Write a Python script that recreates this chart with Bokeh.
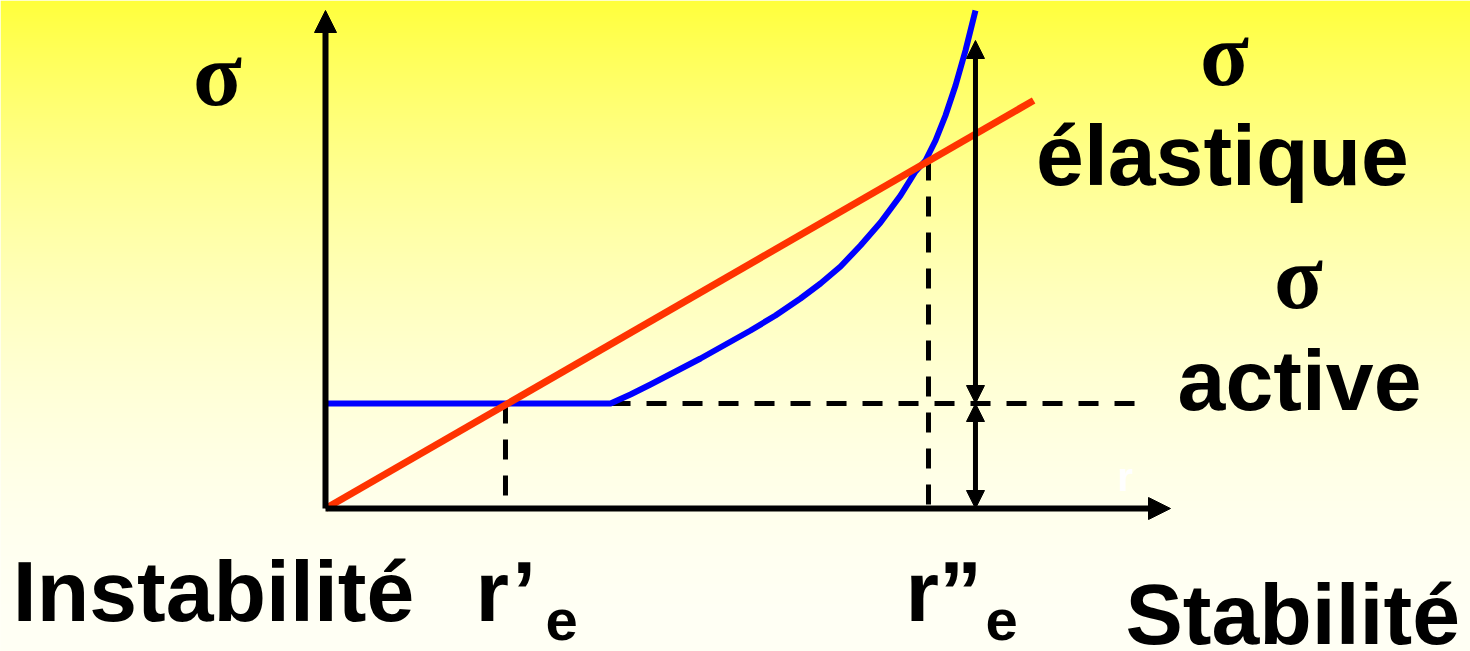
import numpy as np
from bokeh.plotting import figure
from bokeh.models import Range1d, Arrow, NormalHead, ColumnDataSource
from bokeh.core.properties import value
from bokeh.embed import file_html
from bokeh.resources import INLINE

# ---------------- data (chart units) ----------------
red_x = [0.0, 8.38]
red_y = [0.0, 8.16]

blue_x = [0.0, 3.373, 3.609, 3.846, 4.142, 4.438, 4.734, 5.030, 5.325, 5.621, 5.858,
          6.095, 6.331, 6.568, 6.805, 6.982, 7.101, 7.219, 7.337, 7.456, 7.574, 7.692]
blue_y = [2.1, 2.1, 2.28, 2.48, 2.74, 3.0, 3.28, 3.56, 3.86, 4.2, 4.5,
          4.84, 5.26, 5.72, 6.26, 6.74, 6.96, 7.36, 7.86, 8.46, 9.16, 9.96]

sigma_active = 2.1        # plateau level
r_e1 = 2.13               # r'e
r_e2 = 7.136              # r''e
r_e2_sigma = 6.96         # curve / line crossing level
arrow_x = 7.692
elastic_top = 9.36
dash_end_x = 9.586
x_axis_end = 10.0
y_axis_end = 9.96

lab_text = ["Instabilité", "r’", "r”", "Stabilité", "élastique", "active"]
lab_x = [-3.700, 1.775, 6.864, 9.467, 10.615, 11.527]
lab_y = [-1.64, -1.64, -1.64, -2.10, 7.08, 2.58]
lab_align = ["left", "left", "left", "left", "center", "center"]

sub_text = ["e", "e"]
sub_x = [2.604, 7.811]
sub_y = [-2.22, -2.22]

sig_text = ["σ", "σ", "σ"]
sig_x = [-1.278, 10.639, 11.515]
sig_y = [8.68, 9.08, 4.62]

# ---------------- figure ----------------
W, H = 1470, 651
x0, x1 = -3.8462, 13.5503
y0, y1 = -2.86, 10.16
p = figure(width=W, height=H, x_range=Range1d(x0, x1), y_range=Range1d(y0, y1),
           output_backend="svg", toolbar_location=None, min_border=0,
           x_axis_location=None, y_axis_location=None)
p.grid.visible = False
p.outline_line_color = None
p.border_fill_color = "#FFFFF2"
p.background_fill_color = "#FFFFF2"

# background gradient (yellow top -> cream bottom)
rows = H
t = (np.arange(rows)[::-1] + 0.5) / rows   # 0 at top, 1 at bottom
b = 60 + 185 * (1 - (1 - np.clip(t, 0, 1)) ** 2)
img = np.zeros((rows, 1), dtype=np.uint32)
view = img.view(dtype=np.uint8).reshape((rows, 1, 4))
view[:, 0, 0] = 255
view[:, 0, 1] = 255
view[:, 0, 2] = b.astype(np.uint8)
view[:, 0, 3] = 255
p.image_rgba(image=[img], x=x0, y=y0, dw=x1 - x0, dh=y1 - y0)

# dashed guides
dash = dict(line_color="black", line_width=5, line_dash="20 16")
p.line([r_e1, r_e1], [sigma_active, 0], **dash)
p.line([r_e2, r_e2], [r_e2_sigma, 0], **dash)
p.line([blue_x[1], dash_end_x], [sigma_active, sigma_active], **dash)

# curves
p.line(blue_x, blue_y, line_color="#0000FF", line_width=6, line_join="round")
p.line(red_x, red_y, line_color="#FF3300", line_width=7)

# axes with arrows
p.add_layout(Arrow(end=NormalHead(size=22, fill_color="black", line_color="black"),
                   x_start=0, y_start=0, x_end=x_axis_end, y_end=0, line_width=6, line_color="black"))
p.add_layout(Arrow(end=NormalHead(size=22, fill_color="black", line_color="black"),
                   x_start=0, y_start=0, x_end=0, y_end=y_axis_end, line_width=6, line_color="black"))

# double arrows
for ys, ye in [(sigma_active, elastic_top), (0, sigma_active)]:
    p.add_layout(Arrow(start=NormalHead(size=18, fill_color="black", line_color="black"),
                       end=NormalHead(size=18, fill_color="black", line_color="black"),
                       x_start=arrow_x, y_start=ys, x_end=arrow_x, y_end=ye,
                       line_width=5, line_color="black"))

# texts
src = ColumnDataSource(dict(x=lab_x, y=lab_y, text=lab_text, align=lab_align))
p.text(x="x", y="y", text="text", source=src, text_align="align", text_baseline="alphabetic",
       text_font=value("Liberation Sans"), text_font_style="bold", text_font_size="86px",
       text_color="black")
p.text(x=sub_x, y=sub_y, text=sub_text, text_align="left", text_baseline="alphabetic",
       text_font=value("Liberation Sans"), text_font_style="bold", text_font_size="58px",
       text_color="black")
p.text(x=sig_x, y=sig_y, text=sig_text, text_align="center", text_baseline="alphabetic",
       text_font=value("Liberation Serif"), text_font_style="bold", text_font_size="90px",
       text_color="black")
p.text(x=[9.373], y=[0.64], text=["r"], text_align="left", text_baseline="alphabetic",
       text_font=value("Liberation Sans"), text_font_style="bold", text_font_size="40px",
       text_color="white")

open("out.html", "w").write(file_html(p, INLINE))
